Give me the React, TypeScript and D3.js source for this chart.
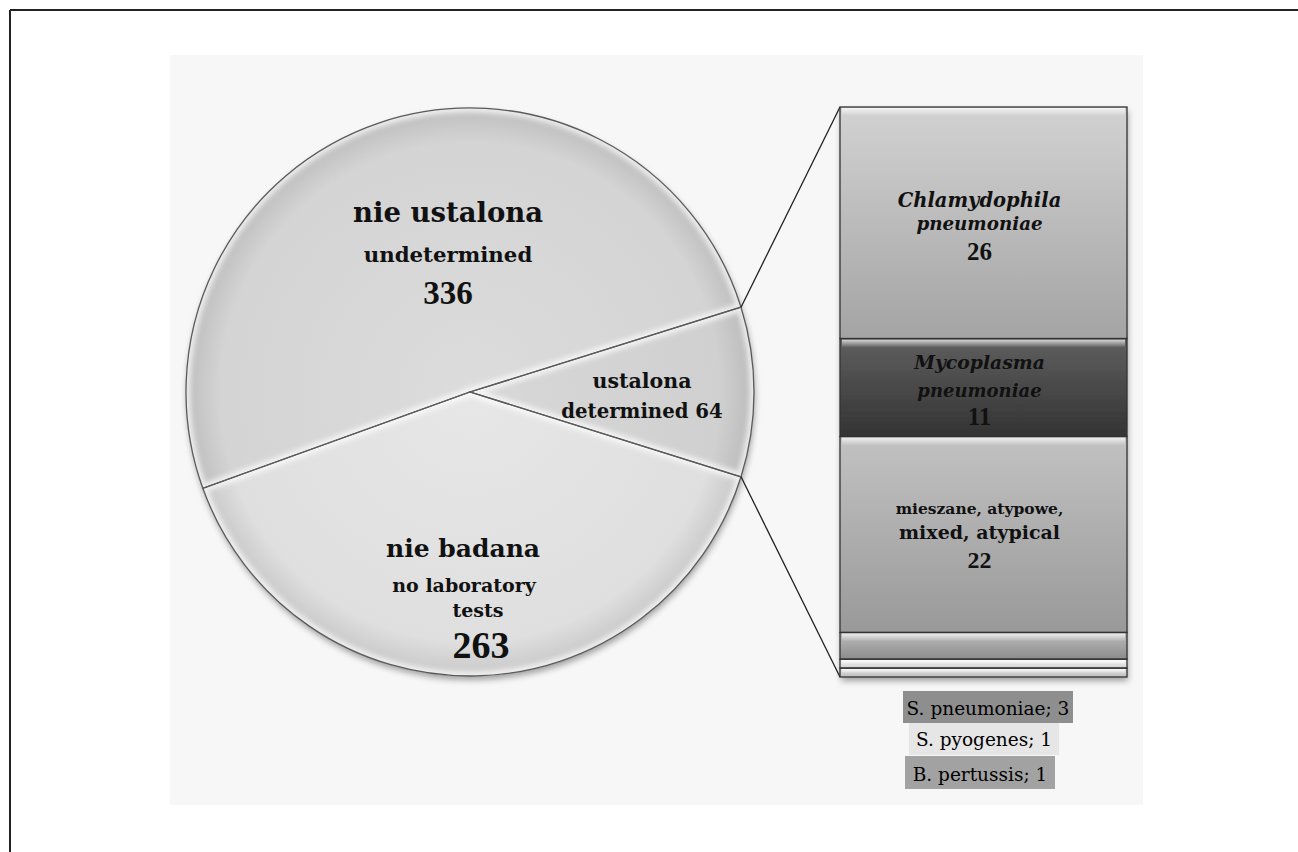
import React from 'react';
import * as d3 from 'd3';

// ---- data ----
const pieCats = ['nie ustalona', 'ustalona', 'nie badana'];
const pieCatsEn = ['undetermined', 'determined', 'no laboratory', 'tests'];
const pieValues = [336, 64, 263];

const barCats = ['Chlamydophila', 'Mycoplasma', 'mieszane, atypowe,', 'S. pneumoniae', 'S. pyogenes', 'B. pertussis'];
const barCats2 = ['pneumoniae', 'pneumoniae', 'mixed, atypical', '', '', ''];
const barValues = [26, 11, 22, 3, 1, 1];

// ---- styles ----
const W = 1298, H = 852;
const WORD = '"DejaVu Serif", serif';
const NUM = '"Liberation Serif", serif';
const pieFill = ['#d4d4d4', '#d0d0d0', '#dfdfdf'];
const barGrad = [
  ['#d2d2d2', '#a4a4a4'],
  ['#5f5f5f', '#333333'],
  ['#c2c2c2', '#999999'],
  ['#bcbcbc', '#8c8c8c'],
  ['#f6f6f6', '#d2d2d2'],
  ['#eaeaea', '#bcbcbc'],
];
const boxFill = ['#8e8e8e', '#e6e6e6', '#a2a2a2'];

export default function App() {
  const cx = 470, cy = 392, R = 284;
  const total = d3.sum(pieValues);
  const start = Math.PI / 2 - (pieValues[1] / total) * Math.PI - (pieValues[0] / total) * 2 * Math.PI;
  const arcs = d3.pie<number>().sort(null).startAngle(start).endAngle(start + 2 * Math.PI)(pieValues);
  const arc = d3.arc<d3.PieArcDatum<number>>().innerRadius(0).outerRadius(R);

  const bx0 = 840, bx1 = 1127;
  const y = d3.scaleLinear().domain([0, d3.sum(barValues)]).range([107, 677]);
  const cum = [0, ...Array.from(d3.cumsum(barValues))];
  const bcx = (bx0 + bx1) / 2;

  const det = arcs[1];
  const p1 = [cx + R * Math.sin(det.startAngle), cy - R * Math.cos(det.startAngle)];
  const p2 = [cx + R * Math.sin(det.endAngle), cy - R * Math.cos(det.endAngle)];

  return (
    <svg width={W} height={H} style={{ position: 'absolute', left: 0, top: 0 }}>
      <defs>
        <filter id="shadow" x="-10%" y="-10%" width="130%" height="130%">
          <feDropShadow dx="1" dy="4" stdDeviation="3" floodColor="#000" floodOpacity="0.35" />
        </filter>
        <filter id="blur"><feGaussianBlur stdDeviation="2.5" /></filter>
        {arcs.map((a, i) => (
          <clipPath id={`pc${i}`} key={i}><path d={arc(a) || ''} transform={`translate(${cx},${cy})`} /></clipPath>
        ))}
        {pieFill.map((c, i) => (
          <radialGradient id={`pg${i}`} key={i} cx={0} cy={0} r={R} gradientUnits="userSpaceOnUse">
            <stop offset="0" stopColor={d3.color(c)!.brighter(0.1).formatHex()} />
            <stop offset="0.88" stopColor={c} />
            <stop offset="1" stopColor={d3.color(c)!.darker(0.3).formatHex()} />
          </radialGradient>
        ))}
        {barGrad.map((g, i) => (
          <linearGradient id={`bg${i}`} key={i} x1="0" y1="0" x2="0" y2="1">
            <stop offset="0" stopColor={g[0]} />
            <stop offset="1" stopColor={g[1]} />
          </linearGradient>
        ))}
        <linearGradient id="hl" x1="0" y1="0" x2="0" y2="1">
          <stop offset="0" stopColor="#fff" stopOpacity="0.75" />
          <stop offset="1" stopColor="#fff" stopOpacity="0" />
        </linearGradient>
      </defs>

      {/* frame */}
      <line x1={10} y1={10} x2={W} y2={10} stroke="#222" strokeWidth={2} />
      <line x1={10} y1={10} x2={10} y2={H} stroke="#222" strokeWidth={2} />
      <rect x={170} y={55} width={973} height={750} fill="#f7f7f7" />

      {/* pie */}
      <g filter="url(#shadow)">
        {arcs.map((a, i) => (
          <path key={i} d={arc(a) || ''} transform={`translate(${cx},${cy})`} fill={`url(#pg${i})`} />
        ))}
      </g>
      {arcs.map((a, i) => (
        <g key={i} clipPath={`url(#pc${i})`}>
          <path d={arc(a) || ''} transform={`translate(${cx},${cy})`} fill="none" stroke="#fff" strokeOpacity={0.7} strokeWidth={9} filter="url(#blur)" />
        </g>
      ))}
      {arcs.map((a, i) => (
        <path key={i} d={arc(a) || ''} transform={`translate(${cx},${cy})`} fill="none" stroke="#5a5a5a" strokeWidth={1.3} />
      ))}

      {/* connectors */}
      <line x1={p1[0]} y1={p1[1]} x2={bx0} y2={y(0)} stroke="#222" strokeWidth={1.3} />
      <line x1={p2[0]} y1={p2[1]} x2={bx0} y2={y(cum[cum.length - 1])} stroke="#222" strokeWidth={1.3} />

      {/* bar */}
      <g filter="url(#shadow)">
        {barValues.map((v, i) => (
          <rect key={i} x={bx0} y={y(cum[i])} width={bx1 - bx0} height={y(cum[i + 1]) - y(cum[i])} fill={`url(#bg${i})`} />
        ))}
      </g>
      {barValues.map((v, i) => {
        const t = y(cum[i]), h = y(cum[i + 1]) - y(cum[i]);
        return (
          <g key={i}>
            <rect x={bx0 + 2} y={t + 1} width={bx1 - bx0 - 4} height={Math.min(8, h * 0.45)} fill="url(#hl)" />
            <rect x={bx0} y={t} width={bx1 - bx0} height={h} fill="none" stroke="#333" strokeWidth={1.3} />
          </g>
        );
      })}

      {/* pie labels */}
      <g fontFamily={WORD} fontWeight="bold" textAnchor="middle" fill="#111">
        <text x={448} y={222} fontSize={27.5}>{pieCats[0]}</text>
        <text x={448} y={262} fontSize={21.3}>{pieCatsEn[0]}</text>
        <text x={448} y={304} fontSize={33} fontFamily={NUM}>{pieValues[0]}</text>
        <text x={642} y={388} fontSize={20.5}>{pieCats[1]}</text>
        <text x={642} y={418} fontSize={19.7}>{`${pieCatsEn[1]} ${pieValues[1]}`}</text>
        <text x={463} y={557} fontSize={25}>{pieCats[2]}</text>
        <text x={464} y={592} fontSize={19}>{pieCatsEn[2]}</text>
        <text x={478} y={617} fontSize={19}>{pieCatsEn[3]}</text>
        <text x={481} y={658} fontSize={38} fontFamily={NUM}>{pieValues[2]}</text>
      </g>

      {/* bar labels */}
      <g fontFamily={WORD} fontWeight="bold" textAnchor="middle" fill="#111">
        <text x={bcx - 4} y={207} fontSize={19.5} fontStyle="italic">{barCats[0]}</text>
        <text x={bcx - 4} y={230} fontSize={18.3} fontStyle="italic">{barCats2[0]}</text>
        <text x={bcx - 4} y={260} fontSize={25} fontFamily={NUM}>{barValues[0]}</text>
        <text x={bcx - 4} y={369} fontSize={18.8} fontStyle="italic">{barCats[1]}</text>
        <text x={bcx - 4} y={397} fontSize={18} fontStyle="italic">{barCats2[1]}</text>
        <text x={bcx - 4} y={425} fontSize={25} fontFamily={NUM}>{barValues[1]}</text>
        <text x={bcx - 4} y={514} fontSize={15.5}>{barCats[2]}</text>
        <text x={bcx - 4} y={539} fontSize={19}>{barCats2[2]}</text>
        <text x={bcx - 4} y={568} fontSize={24} fontFamily={NUM}>{barValues[2]}</text>
      </g>

      {/* small category labels */}
      {[
        { x: 903, y: 691, w: 170, h: 32, ty: 715 },
        { x: 909, y: 723, w: 150, h: 32, ty: 746 },
        { x: 905, y: 756, w: 150, h: 33, ty: 781 },
      ].map((b, i) => (
        <g key={i}>
          <rect x={b.x} y={b.y} width={b.w} height={b.h} fill={boxFill[i]} />
          <text x={b.x + b.w / 2} y={b.ty} textAnchor="middle" fontFamily={WORD} fontSize={18.5} fill="#000">
            {`${barCats[3 + i]}; ${barValues[3 + i]}`}
          </text>
        </g>
      ))}
    </svg>
  );
}
